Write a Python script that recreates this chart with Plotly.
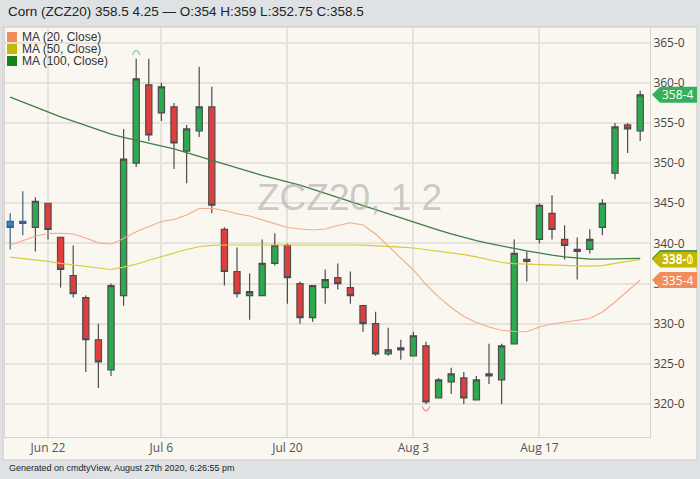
import plotly.graph_objects as go

# ---------------- data ----------------
dates = ["Jun 17", "Jun 18", "Jun 19", "Jun 22", "Jun 23", "Jun 24", "Jun 25", "Jun 26",
         "Jun 29", "Jun 30", "Jul 1", "Jul 2", "Jul 6", "Jul 7", "Jul 8", "Jul 9", "Jul 10",
         "Jul 13", "Jul 14", "Jul 15", "Jul 16", "Jul 17", "Jul 20", "Jul 21", "Jul 22",
         "Jul 23", "Jul 24", "Jul 27", "Jul 28", "Jul 29", "Jul 30", "Jul 31", "Aug 3",
         "Aug 4", "Aug 5", "Aug 6", "Aug 7", "Aug 10", "Aug 11", "Aug 12", "Aug 13",
         "Aug 14", "Aug 17", "Aug 18", "Aug 19", "Aug 20", "Aug 21", "Aug 24", "Aug 25",
         "Aug 26", "Aug 27"]

opens = [342.75, 342.5, 342.0, 345.0, 340.75, 336.0, 333.25, 328.0, 324.25, 333.5,
         350.0, 359.75, 356.25, 357.0, 351.5, 354.0, 357.0, 341.75, 336.5, 333.5,
         333.5, 337.5, 339.75, 335.0, 330.75, 334.5, 335.75, 334.5, 332.25, 330.0,
         326.25, 326.75, 326.0, 327.25, 320.75, 322.75, 323.25, 320.5, 323.5, 323.0,
         327.5, 338.0, 340.5, 343.75, 340.5, 339.25, 339.25, 342.0, 348.75, 354.75, 354.0]
highs = [343.75, 346.5, 345.75, 345.0, 340.75, 339.75, 333.5, 330.0, 335.0, 354.25,
         363.0, 363.0, 360.0, 357.5, 354.75, 362.0, 359.5, 342.0, 339.5, 336.25,
         340.5, 341.25, 340.0, 335.25, 334.75, 336.75, 337.5, 336.5, 332.25, 331.5,
         329.5, 328.0, 329.0, 327.75, 323.25, 324.5, 324.0, 323.5, 327.5, 327.5,
         340.5, 339.0, 345.0, 346.0, 342.25, 340.75, 341.75, 345.5, 355.0, 355.0, 359.0]
lows = [339.25, 341.0, 339.0, 340.5, 334.5, 333.25, 324.0, 322.0, 323.5, 332.25,
        349.5, 352.75, 355.25, 349.25, 347.5, 353.25, 343.75, 334.75, 333.25, 330.5,
        333.5, 337.25, 332.5, 330.0, 330.25, 332.5, 334.25, 332.5, 329.0, 326.0,
        326.0, 325.5, 326.0, 320.0, 320.75, 321.25, 320.0, 320.5, 322.5, 320.0,
        327.5, 335.25, 340.0, 340.5, 338.0, 335.5, 338.75, 341.0, 348.0, 351.25, 352.75]
closes = [342.0, 342.75, 345.25, 341.75, 336.75, 333.75, 328.0, 325.25, 334.75, 350.5,
          360.5, 353.5, 359.5, 352.5, 354.25, 357.0, 344.75, 336.5, 333.75, 334.0,
          337.5, 339.75, 335.75, 330.75, 334.75, 335.5, 335.0, 333.5, 330.0, 326.25,
          326.75, 327.0, 328.5, 320.25, 323.0, 323.75, 320.75, 323.0, 323.75, 327.25,
          338.75, 337.75, 344.75, 341.75, 339.75, 339.0, 340.5, 345.0, 354.5, 354.25, 358.5]

ma20 = [339.80, 340.34, 340.90, 341.23, 341.26, 341.17, 340.67, 340.07, 339.93, 340.61,
        341.44, 342.10, 342.73, 342.98, 343.54, 344.35, 344.37, 344.10, 343.69, 343.41,
        342.95, 342.42, 341.98, 341.79, 341.67, 341.79, 342.23, 342.57, 342.29, 341.17,
        339.68, 338.26, 336.69, 334.88, 333.33, 332.02, 330.90, 330.15, 329.59, 329.19,
        329.03, 329.00, 329.59, 329.96, 330.21, 330.40, 330.65, 331.46, 332.70, 334.07, 335.44]
ma50 = [338.28, 338.12, 337.96, 337.75, 337.52, 337.31, 337.10, 336.87, 336.75, 337.04,
        337.41, 337.90, 338.37, 338.80, 339.24, 339.58, 339.76, 339.80, 339.80, 339.80,
        339.83, 339.85, 339.86, 339.89, 339.89, 339.86, 339.84, 339.80, 339.79, 339.73,
        339.64, 339.54, 339.43, 339.23, 339.03, 338.80, 338.61, 338.33, 337.98, 337.62,
        337.47, 337.40, 337.33, 337.30, 337.26, 337.21, 337.17, 337.24, 337.51, 337.78, 338.00]
ma100 = [358.22, 357.58, 356.95, 356.30, 355.75, 355.22, 354.67, 354.12, 353.62, 353.20,
         352.84, 352.48, 352.15, 351.77, 351.31, 350.82, 350.35, 349.86, 349.41, 348.94,
         348.48, 348.03, 347.65, 347.27, 346.75, 346.23, 345.68, 345.16, 344.71, 344.22,
         343.70, 343.16, 342.63, 342.13, 341.66, 341.18, 340.72, 340.34, 340.00, 339.66,
         339.37, 339.08, 338.78, 338.53, 338.32, 338.14, 338.03, 338.03, 338.07, 338.11, 338.14]

neutral_days = ["Jun 17", "Jun 18"]          # drawn in blue
tick_days = ["Jun 22", "Jul 6", "Jul 20", "Aug 3", "Aug 17"]
price_ticks = [320, 325, 330, 335, 340, 345, 350, 355, 360, 365]

header = "Corn (ZCZ20) 358.5 4.25 \u2014 O:354 H:359 L:352.75 C:358.5"
footer = "Generated on cmdtyView, August 27th 2020, 6:26:55 pm"
watermark = "ZCZ20, 1 2"
ma_names = ["MA (20, Close)", "MA (50, Close)", "MA (100, Close)"]

# ---------------- styling ----------------
GREEN = "#2bab4e"
RED = "#e23d3d"
BLUE = "#2f80d8"
C20_LINE, C20_BOX = "#f3ab88", "#f28c5a"
C50_LINE, C50_BOX = "#d8cb3c", "#c4b800"
C100_LINE, C100_BOX = "#3b8146", "#17801f"
CREAM = "#faf7f1"
GREYBG = "#dfe2e5"
GRID = "#e6e3dc"


def eighths(v):
    whole = int(v)
    frac = round((v - whole) * 8)
    if frac == 8:
        whole, frac = whole + 1, 0
    return f"{whole}-{frac}"


xs = list(range(len(dates)))
idx_of = {d: i for i, d in enumerate(dates)}
main_idx = [i for i in xs if dates[i] not in neutral_days]
neu_idx = [idx_of[d] for d in neutral_days]

fig = go.Figure()

# moving averages
for vals, col, w in [(ma100, C100_LINE, 1.3), (ma50, C50_LINE, 1.2), (ma20, C20_LINE, 1.1)]:
    fig.add_trace(go.Scatter(x=xs, y=vals, mode="lines", line=dict(color=col, width=w),
                             hoverinfo="skip", showlegend=False))

# candles
fig.add_trace(go.Candlestick(
    x=[xs[i] for i in main_idx],
    open=[opens[i] for i in main_idx], high=[highs[i] for i in main_idx],
    low=[lows[i] for i in main_idx], close=[closes[i] for i in main_idx],
    increasing=dict(fillcolor=GREEN, line=dict(color="#4d4d4d", width=1.2)),
    decreasing=dict(fillcolor=RED, line=dict(color="#4d4d4d", width=1.2)),
    whiskerwidth=0, showlegend=False))
fig.add_trace(go.Candlestick(
    x=[xs[i] for i in neu_idx],
    open=[opens[i] for i in neu_idx], high=[highs[i] for i in neu_idx],
    low=[lows[i] for i in neu_idx], close=[closes[i] for i in neu_idx],
    increasing=dict(fillcolor=BLUE, line=dict(color="#3f5f86", width=1.2)),
    decreasing=dict(fillcolor=BLUE, line=dict(color="#3f5f86", width=1.2)),
    whiskerwidth=0, showlegend=False))

# plot geometry (pixels)
L, R, T, B = 5, 50, 27, 42
W, H = 700, 479
pw, ph = W - L - R, H - T - B


def px_x(p):
    return (p - L) / pw


def px_y(p):
    return 1 - (p - T) / ph


shapes = []
# cream chart box behind everything
shapes.append(dict(type="rect", xref="paper", yref="paper", layer="below",
                   x0=px_x(3), x1=px_x(697), y0=px_y(460), y1=px_y(27),
                   fillcolor=CREAM, line=dict(color="#c9c9c9", width=1)))

# high / low markers (small arcs)
hi_i = max(xs, key=lambda i: highs[i])
lo_i = min(xs, key=lambda i: lows[i])
hv, lv = highs[hi_i], lows[lo_i]
shapes.append(dict(type="path", xref="x", yref="y", layer="above",
                   path=f"M {hi_i-0.3},{hv+0.45} Q {hi_i},{hv+1.55} {hi_i+0.3},{hv+0.45}",
                   line=dict(color="#7fcf95", width=1.2)))
shapes.append(dict(type="path", xref="x", yref="y", layer="above",
                   path=f"M {lo_i-0.3},{lv-0.3} Q {lo_i},{lv-1.4} {lo_i+0.3},{lv-0.3}",
                   line=dict(color="#ec8a8a", width=1.2)))

annotations = []
# price labels on right axis
xa, xb, xc = px_x(652), px_x(660), px_x(697)
hh = 8 / 8.03
for val, col in [(ma100[-1], C100_BOX), (ma50[-1], C50_BOX), (ma20[-1], C20_BOX),
                 (closes[-1], "#34b05a")]:
    shapes.append(dict(type="path", xref="paper", yref="y", layer="above",
                       path=f"M {xa},{val} L {xb},{val+hh} L {xc},{val+hh} L {xc},{val-hh} L {xb},{val-hh} Z",
                       fillcolor=col, line=dict(width=0)))
    annotations.append(dict(xref="paper", yref="y", x=px_x(677), y=val, text=eighths(val),
                            showarrow=False, xanchor="center", yanchor="middle",
                            font=dict(family="Open Sans", size=12, color="white")))

# legend
for k, (name, col) in enumerate(zip(ma_names, [C20_BOX, C50_BOX, C100_BOX])):
    yc = 37 + 12 * k
    shapes.append(dict(type="rect", xref="paper", yref="paper", layer="above",
                       x0=px_x(7), x1=px_x(17), y0=px_y(yc + 5), y1=px_y(yc - 5),
                       fillcolor=col, line=dict(width=0)))
    annotations.append(dict(xref="paper", yref="paper", x=px_x(20), y=px_y(yc), text=name,
                            showarrow=False, xanchor="left", yanchor="middle",
                            font=dict(family="Liberation Sans", size=12, color="#333333")))

# header / footer / watermark
annotations.append(dict(xref="paper", yref="paper", x=px_x(6), y=px_y(12), text=header,
                        showarrow=False, xanchor="left", yanchor="middle",
                        font=dict(family="Liberation Sans", size=13.5, color="#222222")))
annotations.append(dict(xref="paper", yref="paper", x=px_x(7), y=px_y(468), text=footer,
                        showarrow=False, xanchor="left", yanchor="middle",
                        font=dict(family="Liberation Sans", size=9, color="#222222")))
annotations.append(dict(xref="paper", yref="paper", x=px_x(349), y=px_y(198), text=watermark,
                        showarrow=False, xanchor="center", yanchor="middle",
                        font=dict(family="Liberation Sans", size=37, color="rgba(170,170,170,0.6)")))

ymin = 320 - (437 - 404) / 8.03
ymax = 320 + (404 - 27) / 8.03
xmin = (5 - 10.2) / 12.6
xmax = (650 - 10.2) / 12.6

fig.update_layout(
    width=W, height=H,
    margin=dict(l=L, r=R, t=T, b=B, pad=0),
    paper_bgcolor=GREYBG, plot_bgcolor=CREAM,
    showlegend=False,
    shapes=shapes, annotations=annotations,
    xaxis=dict(range=[xmin, xmax], tickvals=[idx_of[d] for d in tick_days], ticktext=tick_days,
               showgrid=True, gridcolor=GRID, gridwidth=1.5, zeroline=False,
               rangeslider=dict(visible=False), ticks="",
               tickfont=dict(family="Open Sans", size=12, color="#555555"),
               showline=True, linecolor="#d6d3cc", linewidth=1, mirror=True),
    yaxis=dict(range=[ymin, ymax], side="right", tickvals=price_ticks,
               ticktext=[eighths(v) for v in price_ticks],
               showgrid=True, gridcolor=GRID, gridwidth=1.5, zeroline=False, ticks="",
               tickfont=dict(family="Open Sans", size=12, color="#444444"),
               showline=True, linecolor="#d6d3cc", linewidth=1, mirror=True),
)

fig.write_html("out.html", config={"displayModeBar": False},
               post_script="document.body.style.margin='0';document.body.style.overflow='hidden';")
